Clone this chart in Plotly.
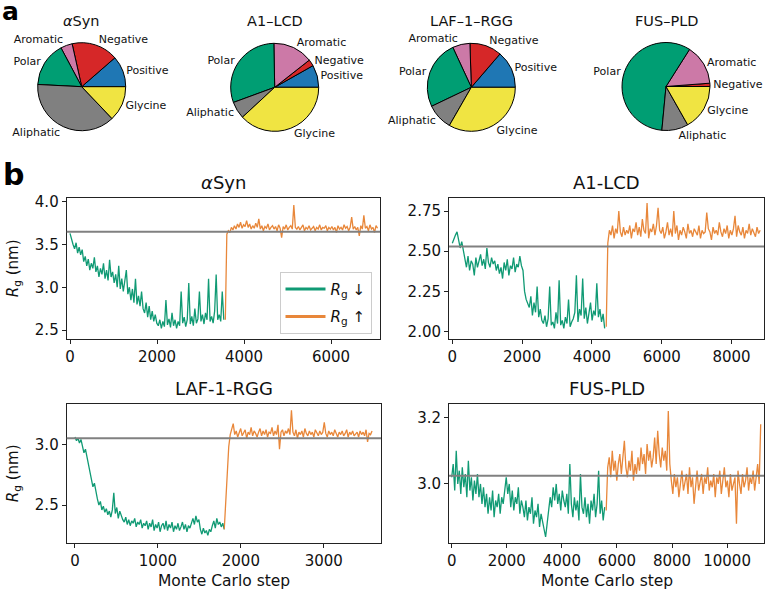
import numpy as np
import plotly.graph_objects as go

W, H = 768, 591
FONT = "DejaVu Sans"

# ---------------- composition data (panel a) ----------------
categories = ["Positive", "Negative", "Aromatic", "Polar", "Aliphatic", "Glycine"]
cat_colors = ["#1f77b4", "#d62728", "#cc79a7", "#009e73", "#808080", "#f0e442"]

comp_asyn = [11.4, 17.1, 4.3, 16.4, 37.9, 12.9]
comp_a1lcd = [8.2, 2.4, 14.7, 30.3, 6.3, 38.1]
comp_laf = [13.7, 11.8, 6.4, 25.2, 9.6, 33.3]
comp_fus = [0.0, 1.2, 14.8, 57.5, 9.7, 16.8]

pie_titles = ["<i>α</i>Syn", "A1–LCD", "LAF–1–RGG", "FUS–PLD"]

# ---------------- Rg trajectories (panel b) ----------------
# alpha-Synuclein
asyn_stride = 35
asyn_down_start = 0
asyn_down = [3.63, 3.55, 3.50,
             3.45, 3.52, 3.40, 3.47, 3.38, 3.44,
             3.30, 3.36, 3.25, 3.33, 3.20, 3.28, 3.22, 3.35, 3.18,
             3.25, 3.12, 3.22, 3.15, 3.28, 3.10, 3.20, 3.08, 3.32, 3.12, 3.18,
             3.05, 3.15, 3.00, 3.25, 2.98, 3.10, 2.95, 3.05, 3.20,
             2.92, 3.00, 2.85, 2.98, 2.82, 3.10, 2.80, 2.90, 2.78, 2.95, 2.75,
             2.70, 2.82, 2.65, 2.78, 2.62, 2.72, 2.60, 2.68, 2.58,
             2.55, 2.62, 2.52, 2.60, 2.54, 2.85, 2.56, 2.63, 2.53, 2.70, 2.55, 2.62, 2.52, 2.60,
             2.55, 2.95, 2.58, 2.65, 2.54, 2.62, 3.05, 2.57, 2.66, 2.55, 2.75, 2.58, 2.63, 2.95,
             2.60, 2.68, 2.57, 2.70, 2.62, 3.10, 2.60, 2.66, 2.58, 2.72, 3.15, 2.62, 2.68, 2.60, 2.95, 2.62]
asyn_up_start = 3570
asyn_up = [2.62, 3.62, 3.66, 3.64, 3.70, 3.67, 3.72,
           3.68, 3.74, 3.70, 3.76, 3.69, 3.73, 3.71, 3.78, 3.70, 3.74, 3.68, 3.72, 3.69, 3.75,
           3.70, 3.80, 3.68, 3.72, 3.66, 3.71, 3.69, 3.74, 3.67, 3.70, 3.72, 3.68, 3.71, 3.66, 3.73,
           3.69, 3.58, 3.71, 3.68, 3.73, 3.67, 3.70, 3.72, 3.68, 3.96, 3.70,
           3.68, 3.71, 3.67, 3.70, 3.73, 3.66, 3.70, 3.68, 3.72, 3.67, 3.69, 3.71, 3.66, 3.70, 3.68,
           3.73, 3.67, 3.70, 3.69, 3.72, 3.66, 3.70, 3.68,
           3.71, 3.67, 3.70, 3.64, 3.72, 3.68, 3.70, 3.67, 3.73, 3.69, 3.71, 3.66, 3.70, 3.82, 3.68,
           3.71, 3.67,
           3.70, 3.60, 3.72, 3.68, 3.84, 3.69, 3.71, 3.66, 3.73, 3.68, 3.70, 3.64, 3.72, 3.69]
asyn_ref = 3.65

# A1-LCD
a1_stride = 45
a1_down_start = 0
a1_down = [2.55, 2.58, 2.60, 2.62, 2.57,
           2.52, 2.56, 2.50,
           2.45, 2.40, 2.47, 2.38, 2.44, 2.42, 2.35, 2.46,
           2.40, 2.44, 2.48, 2.41, 2.45, 2.39, 2.52, 2.43, 2.40, 2.46, 2.42, 2.44, 2.38,
           2.42, 2.36, 2.40, 2.33, 2.43, 2.38, 2.45, 2.35, 2.41, 2.39, 2.46, 2.37, 2.42, 2.40, 2.47, 2.41, 2.38,
           2.25, 2.20, 2.17,
           2.15, 2.22, 2.10, 2.18, 2.12, 2.28, 2.09, 2.14, 2.07,
           2.05, 2.10, 2.03, 2.08, 2.28, 2.04, 2.06, 2.02, 2.12, 2.05, 2.32, 2.04, 2.07, 2.02, 2.09, 2.05,
           2.20, 2.03, 2.06,
           2.08, 2.12, 2.35, 2.06, 2.14, 2.10, 2.33, 2.08, 2.15, 2.05, 2.12, 2.18, 2.07, 2.13, 2.10, 2.30,
           2.09, 2.14, 2.06, 2.11, 2.02]
a1_up_start = 4410
a1_up = [2.03, 2.55, 2.63, 2.60, 2.66, 2.58, 2.64, 2.61, 2.75, 2.62, 2.59, 2.65, 2.60, 2.63,
         2.61, 2.66, 2.58, 2.64, 2.62, 2.68, 2.60, 2.65, 2.59, 2.70, 2.63, 2.61, 2.80, 2.58, 2.64,
         2.62, 2.67, 2.60, 2.66, 2.77, 2.63, 2.61,
         2.65, 2.58, 2.62, 2.68, 2.60, 2.64, 2.59, 2.75, 2.61, 2.66, 2.57, 2.63, 2.60, 2.65, 2.62,
         2.58, 2.67, 2.61, 2.63, 2.59, 2.64, 2.62,
         2.60, 2.66, 2.58, 2.63, 2.61, 2.62, 2.74, 2.64, 2.62, 2.57, 2.65, 2.61, 2.63, 2.60, 2.68,
         2.62, 2.59, 2.64, 2.61, 2.66, 2.58, 2.63, 2.60,
         2.64, 2.72, 2.59, 2.66, 2.62, 2.60, 2.65, 2.58, 2.63, 2.61, 2.67, 2.60, 2.64, 2.62, 2.59,
         2.65, 2.61, 2.63]
a1_ref = 2.53

# LAF-1-RGG
laf_stride = 18
laf_down_start = 0
laf_down = [3.06, 3.03, 3.05, 3.01, 3.04,
            2.97, 2.93, 2.96, 2.90,
            2.84, 2.78,
            2.72, 2.65, 2.68, 2.60,
            2.55, 2.50, 2.53, 2.46, 2.49, 2.44, 2.47, 2.42, 2.45,
            2.40, 2.46, 2.60, 2.43, 2.48, 2.39, 2.45, 2.41, 2.38,
            2.36, 2.40, 2.34, 2.38, 2.33, 2.37, 2.35, 2.39, 2.32, 2.36, 2.34, 2.38, 2.31, 2.35,
            2.33, 2.37, 2.30, 2.35, 2.32, 2.38, 2.29, 2.34, 2.31, 2.36, 2.28, 2.33, 2.35, 2.30, 2.37,
            2.29, 2.34, 2.31, 2.36, 2.28, 2.33, 2.30, 2.35, 2.29, 2.32, 2.36, 2.30, 2.34, 2.28, 2.33,
            2.31,
            2.35, 2.39, 2.34, 2.41, 2.36, 2.38,
            2.30, 2.26, 2.31, 2.27, 2.29, 2.25, 2.30, 2.28,
            2.33, 2.37, 2.31, 2.39, 2.34, 2.36, 2.32, 2.35, 2.30]
laf_up_start = 1800
laf_up = [2.30, 2.55, 2.80, 2.98, 3.08,
          3.12, 3.17, 3.08, 3.11, 3.06, 3.10, 3.13, 3.07, 3.09, 3.12, 3.05, 3.10, 3.08, 3.14, 3.07,
          3.11, 3.09, 3.06,
          3.10, 3.13, 3.07, 3.11, 3.08, 3.12, 3.06, 3.10, 3.09, 3.14, 3.07, 3.11, 3.08, 3.16, 2.96,
          3.10, 3.12, 3.07, 3.11, 3.09, 3.13, 3.08,
          3.28, 3.10, 3.07, 3.12, 3.05, 3.10, 3.08, 3.11, 3.06, 3.13, 3.09, 3.07, 3.11, 3.08, 3.10,
          3.06, 3.12, 3.09, 3.07, 3.11, 3.08, 3.10,
          3.18, 3.09, 3.06, 3.11, 3.08, 3.10, 3.07, 3.12, 3.09, 3.06, 3.10, 3.08, 3.11, 3.07, 3.09,
          3.12, 3.06, 3.10, 3.08, 3.11, 3.07, 3.09, 3.10, 3.06, 3.11, 3.08, 3.10, 3.07, 3.12, 3.02,
          3.09, 3.08, 3.11]
laf_ref = 3.05

# FUS-PLD
fus_stride = 55
fus_down_start = 0
fus_down = [3.02, 3.06, 2.98, 3.10, 3.00, 3.04, 2.97, 3.05, 2.99, 3.03, 2.96,
            3.07, 2.98, 3.02, 2.95, 3.01, 2.97, 3.03, 2.96, 3.00, 2.94, 2.99,
            2.93, 2.97, 2.91, 2.96, 2.92, 2.98, 2.90, 2.95, 2.93, 2.97, 2.91, 2.96, 2.94, 2.99, 3.02,
            2.97, 3.00, 2.93, 2.98, 2.92, 2.96, 2.94, 2.99, 2.91, 2.95, 2.93,
            2.90, 2.95, 2.89, 2.93, 2.91, 2.96, 2.88, 2.92, 2.90, 2.94, 2.87, 2.91, 2.89, 2.86, 2.84,
            2.88,
            2.92, 2.96, 2.93, 2.99, 2.95, 3.00, 2.94, 2.97, 2.92, 2.98, 2.95, 2.93, 2.97, 2.91, 3.06,
            2.94, 2.90, 2.96, 2.92, 2.95, 2.89, 3.03, 2.93, 2.91, 2.96, 2.90, 2.94, 2.88, 2.95, 2.92,
            2.97, 2.90, 2.94, 3.04, 2.91, 2.95, 2.89, 2.93]
fus_up_start = 5610
fus_up = [2.92, 3.05, 3.08, 3.02, 3.10, 3.04, 3.07, 3.01,
          3.06, 3.09, 3.03, 3.08, 3.13, 3.05, 3.02, 3.07, 3.04, 3.10, 3.01, 3.06, 3.03,
          3.08, 3.04, 3.11, 3.06, 3.09, 3.03, 3.12, 3.07, 3.10, 3.05, 3.08, 3.14, 3.06, 3.16, 3.09,
          3.05, 3.11, 3.07, 3.10, 3.04,
          3.22, 3.06,
          3.01, 2.97, 3.03, 2.99, 3.02, 2.96, 3.00, 3.04, 2.98,
          3.01, 3.03, 2.97, 3.05, 2.99, 3.02, 2.94, 3.00, 3.04, 2.98, 3.01, 3.03, 2.97, 3.02, 3.00,
          3.05, 2.98, 3.01, 2.99, 3.03, 2.96, 3.02,
          3.00, 3.04, 2.97, 3.02, 3.05, 2.99, 3.01, 2.96, 3.03, 2.98, 3.00, 3.02, 2.88, 3.04, 3.00,
          2.97, 3.03, 2.99, 3.01, 3.05, 2.98, 3.02,
          3.00, 3.04, 2.98, 3.02, 3.06, 3.00, 3.18]
fus_ref = 3.025

panel_titles = ["<i>α</i>Syn", "A1-LCD", "LAF-1-RGG", "FUS-PLD"]
x_ticks = [[0, 2000, 4000, 6000], [0, 2000, 4000, 6000, 8000],
           [0, 1000, 2000, 3000], [0, 2000, 4000, 6000, 8000, 10000]]
y_ticks = [[2.5, 3.0, 3.5, 4.0], [2.00, 2.25, 2.50, 2.75], [2.5, 3.0], [3.0, 3.2]]
y_fmt = [".1f", ".2f", ".1f", ".1f"]
x_ranges = [[-76, 7126], [-95, 8930], [-100, 3690], [-98, 11340]]
y_ranges = [[2.395, 4.04], [1.954, 2.829], [2.185, 3.332], [2.821, 3.241]]

GREEN = "#109a74"
ORANGE = "#e8873a"


def px_x(p):
    return p / W


def px_y(p):
    return 1 - p / H


fig = go.Figure()

# ---------------- pies ----------------
pie_centers = [(81.7, 86.7), (274.7, 87.3), (471.3, 87.3), (666.0, 86.5)]
pie_r = 44
for comp, title, (cx, cy) in zip([comp_asyn, comp_a1lcd, comp_laf, comp_fus], pie_titles, pie_centers):
    labs = [c for c, v in zip(categories, comp) if v > 0]
    vals = [v for v in comp if v > 0]
    cols = [col for col, v in zip(cat_colors, comp) if v > 0]
    first_deg = 360.0 * vals[0] / sum(vals)
    fig.add_trace(go.Pie(
        labels=labs, values=vals, sort=False, direction="counterclockwise",
        rotation=90 - first_deg,
        marker=dict(colors=cols, line=dict(color="black", width=1)),
        textposition="outside", textinfo="label", automargin=False,
        textfont=dict(size=11, color="#111111", family=FONT),
        showlegend=False,
        domain=dict(x=[px_x(cx - pie_r), px_x(cx + pie_r)], y=[px_y(cy + pie_r), px_y(cy - pie_r)]),
    ))
    fig.add_annotation(x=px_x(cx), y=px_y(20.5), xref="paper", yref="paper", text=title,
                       showarrow=False, font=dict(size=14.5, color="#111111", family=FONT),
                       xanchor="center", yanchor="middle")

# ---------------- line panels ----------------
boxes = [(66.7, 380.0, 198.3, 339.0), (449.0, 764.0, 198.3, 339.0),
         (66.7, 381.0, 404.0, 543.3), (449.0, 764.0, 404.0, 543.3)]
series = [
    (asyn_down_start, asyn_down, asyn_up_start, asyn_up, asyn_stride, asyn_ref),
    (a1_down_start, a1_down, a1_up_start, a1_up, a1_stride, a1_ref),
    (laf_down_start, laf_down, laf_up_start, laf_up, laf_stride, laf_ref),
    (fus_down_start, fus_down, fus_up_start, fus_up, fus_stride, fus_ref),
]

layout_axes = {}
for k, ((x0, x1, y0, y1), (ds, dv, us, uv, st, ref)) in enumerate(zip(boxes, series)):
    n = k + 1
    xa = "x" if n == 1 else f"x{n}"
    ya = "y" if n == 1 else f"y{n}"
    xd = np.arange(len(dv)) * st + ds
    xu = np.arange(len(uv)) * st + us
    fig.add_trace(go.Scatter(x=xd, y=dv, mode="lines", line=dict(color=GREEN, width=1.3),
                             xaxis=xa, yaxis=ya, showlegend=False))
    fig.add_trace(go.Scatter(x=xu, y=uv, mode="lines", line=dict(color=ORANGE, width=1.3),
                             xaxis=xa, yaxis=ya, showlegend=False))
    fig.add_shape(type="line", xref=f"{xa} domain", x0=0, x1=1, yref=ya, y0=ref, y1=ref,
                  line=dict(color="#808080", width=2))
    common = dict(showline=True, mirror=True, linecolor="#222222", linewidth=1,
                  ticks="outside", ticklen=4, tickwidth=1, tickcolor="#222222",
                  showgrid=False, zeroline=False, automargin=False,
                  tickfont=dict(size=15, color="#111111", family=FONT))
    layout_axes["xaxis" if n == 1 else f"xaxis{n}"] = dict(
        domain=[px_x(x0), px_x(x1)], anchor=ya, range=x_ranges[k],
        tickmode="array", tickvals=x_ticks[k], ticktext=[str(v) for v in x_ticks[k]], **common)
    layout_axes["yaxis" if n == 1 else f"yaxis{n}"] = dict(
        domain=[px_y(y1), px_y(y0)], anchor=xa, range=y_ranges[k],
        tickmode="array", tickvals=y_ticks[k], tickformat=y_fmt[k], **common)
    fig.add_annotation(x=px_x((x0 + x1) / 2), y=px_y(y0 - 15.5), xref="paper", yref="paper",
                       text=panel_titles[k], showarrow=False,
                       font=dict(size=18, color="#111111", family=FONT),
                       xanchor="center", yanchor="middle")
    if k >= 2:
        fig.add_annotation(x=px_x((x0 + x1) / 2), y=px_y(581), xref="paper", yref="paper",
                           text="Monte Carlo step", showarrow=False,
                           font=dict(size=15.5, color="#111111", family=FONT),
                           xanchor="center", yanchor="middle")
    if k % 2 == 0:
        fig.add_annotation(x=px_x(13.5), y=px_y((y0 + y1) / 2), xref="paper", yref="paper",
                           text="<i>R</i><sub>g</sub> (nm)", showarrow=False, textangle=-90,
                           font=dict(size=15, color="#111111", family=FONT),
                           xanchor="center", yanchor="middle")

# legend entries (panel b, first axes)
fig.add_trace(go.Scatter(x=[None], y=[None], mode="lines", line=dict(color=GREEN, width=3),
                         name="<i>R</i><sub>g</sub> ↓", legendgroup="down", xaxis="x", yaxis="y"))
fig.add_trace(go.Scatter(x=[None], y=[None], mode="lines", line=dict(color=ORANGE, width=3),
                         name="<i>R</i><sub>g</sub> ↑", legendgroup="up", xaxis="x", yaxis="y"))

# panel letters
fig.add_annotation(x=px_x(0), y=px_y(12), xref="paper", yref="paper", text="<b>a</b>",
                   showarrow=False, font=dict(size=25, color="black", family=FONT),
                   xanchor="left", yanchor="middle")
fig.add_annotation(x=px_x(1), y=px_y(175), xref="paper", yref="paper", text="<b>b</b>",
                   showarrow=False, font=dict(size=30, color="black", family=FONT),
                   xanchor="left", yanchor="middle")

fig.update_layout(
    template="none",
    width=W, height=H, margin=dict(l=0, r=0, t=0, b=0, pad=0, autoexpand=False),
    paper_bgcolor="white", plot_bgcolor="white",
    font=dict(family=FONT, color="#111111"),
    showlegend=True,
    legend=dict(x=px_x(279.5), y=px_y(271.7), xanchor="left", yanchor="top",
                bgcolor="rgba(255,255,255,0.85)", bordercolor="#cccccc", borderwidth=1,
                font=dict(size=15, family=FONT, color="#111111"), tracegroupgap=5,
                itemwidth=40),
    **layout_axes,
)

fig.write_html("out.html", config={"displayModeBar": False},
               post_script="document.body.style.margin='0px';")
